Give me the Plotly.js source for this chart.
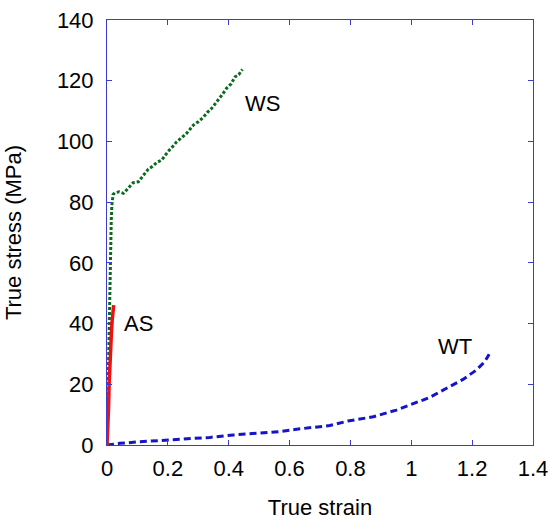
<!DOCTYPE html>
<html>
<head>
<meta charset="utf-8">
<script src="https://cdn.plot.ly/plotly-3.0.1.min.js"></script>
<style>html,body{margin:0;padding:0;background:#fff;}#chart{width:550px;height:522px;}</style>
</head>
<body>
<div id="chart"></div>
<script>
// WS (green dotted)
const wsStrain = [0, 0.001, 0.002, 0.003, 0.004, 0.006, 0.008, 0.010, 0.012, 0.014, 0.016, 0.018, 0.020, 0.026, 0.040, 0.054, 0.065, 0.076, 0.086, 0.103, 0.120, 0.136, 0.150, 0.163, 0.180, 0.200, 0.215, 0.229, 0.245, 0.262, 0.284, 0.300, 0.316, 0.330, 0.344, 0.366, 0.380, 0.393, 0.408, 0.421, 0.433, 0.445];
const wsStress = [0, 5, 12, 20, 30, 42, 52, 60, 68, 74, 79, 81, 82.5, 83.1, 83.4, 82.9, 84.2, 85.6, 86.4, 86.7, 88.8, 90.9, 91.8, 93.0, 93.9, 96.6, 98.2, 99.9, 101.2, 102.7, 105.4, 106.5, 107.9, 109.6, 110.9, 113.6, 115.6, 117.5, 119.0, 121.3, 122.0, 123.7];

// AS (red solid)
const asStrain = [0, 0.003, 0.005, 0.007, 0.009, 0.011, 0.013, 0.015, 0.017, 0.019, 0.021, 0.022];
const asStress = [0, 5, 12, 20, 26, 31, 35, 38, 41, 43.5, 45.5, 46.1];

// WT (blue dashed)
const wtStrain = [0, 0.043, 0.10, 0.196, 0.262, 0.338, 0.415, 0.492, 0.568, 0.623, 0.689, 0.732, 0.792, 0.875, 0.951, 1.017, 1.061, 1.116, 1.170, 1.214, 1.241, 1.256];
const wtStress = [0, 0.55, 1.0, 1.65, 2.0, 2.5, 3.3, 3.95, 4.4, 5.2, 6.0, 6.4, 7.9, 9.3, 11.5, 13.9, 15.7, 18.7, 21.6, 24.7, 27.4, 29.9];

// labels
const labelText = ['WS', 'AS', 'WT'];
const labelX = [0.51, 0.105, 1.143];
const labelY = [112.6, 39.9, 32.3];

const frame = '#3b3bd0';
const font = 'Liberation Sans, Arial, sans-serif';

const traces = [
  {x: wtStrain, y: wtStress, mode: 'lines', line: {color: '#1414c8', width: 3, dash: '7px,4px'}, hoverinfo: 'skip'},
  {x: wsStrain, y: wsStress, mode: 'lines', line: {color: '#0b6b1f', width: 3, dash: '3px,2px'}, hoverinfo: 'skip'},
  {x: asStrain, y: asStress, mode: 'lines', line: {color: '#ee1111', width: 3.5}, hoverinfo: 'skip'}
];

const annotations = labelText.map((t, i) => ({
  x: labelX[i], y: labelY[i], xref: 'x', yref: 'y', text: t, showarrow: false,
  font: {family: font, size: 22, color: '#000'}
}));

const axisCommon = {
  showgrid: false, zeroline: false, showline: true, linecolor: frame, linewidth: 1,
  mirror: 'ticks', ticks: 'inside', ticklen: 5, tickcolor: frame, tickwidth: 1,
  tickfont: {family: font, size: 22, color: '#000'}
};

const layout = {
  width: 550, height: 522,
  margin: {l: 107, r: 17, t: 20, b: 77},
  paper_bgcolor: '#fff', plot_bgcolor: '#fff',
  showlegend: false,
  xaxis: Object.assign({}, axisCommon, {
    range: [0, 1.4], dtick: 0.2, tick0: 0, ticklabelstandoff: 4,
    title: {text: 'True strain', font: {family: font, size: 22, color: '#000'}, standoff: 19}
  }),
  yaxis: Object.assign({}, axisCommon, {
    range: [0, 140], dtick: 20, tick0: 0, ticklabelstandoff: 8,
    title: {text: 'True stress (MPa)', font: {family: font, size: 22, color: '#000'}, standoff: 29}
  }),
  annotations: annotations
};

Plotly.newPlot('chart', traces, layout, {staticPlot: true, displayModeBar: false});
</script>
</body>
</html>
